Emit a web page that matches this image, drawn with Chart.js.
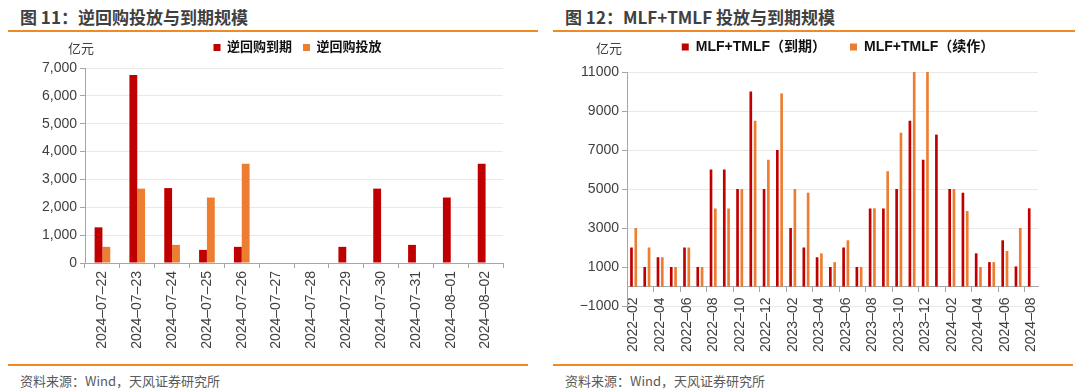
<!DOCTYPE html>
<html>
<head>
<meta charset="utf-8">
<script src="https://cdn.jsdelivr.net/npm/chart.js@4/dist/chart.umd.min.js"></script>
<style>
  body { margin: 0; width: 1080px; height: 391px; background: #fff; position: relative; overflow: hidden;
         font-family: "Liberation Sans", "Noto Sans CJK SC", sans-serif; }
  .title { position: absolute; top: 4px; font-size: 17px; font-weight: bold; color: #404040; white-space: nowrap;
           font-family: "Noto Sans CJK SC", sans-serif; }
  .rule { position: absolute; height: 2px; background: #F08A24; }
  .unit { position: absolute; top: 38px; font-size: 13px; color: #404040; font-family: "Noto Sans CJK SC", sans-serif; }
  .src { position: absolute; top: 371px; font-size: 13px; color: #595959; white-space: nowrap;
         font-family: "Noto Sans CJK SC", sans-serif; }
  .box { position: absolute; width: 540px; }
</style>
</head>
<body>
<div class="title" style="left:20px">图 11：逆回购投放与到期规模</div>
<div class="title" style="left:565px">图 12：MLF+TMLF 投放与到期规模</div>
<div class="rule" style="left:8px; width:530px; top:30px"></div>
<div class="rule" style="left:553px; width:522px; top:30px"></div>
<div class="box" style="left:0; top:30px; height:332px"><canvas id="repo-chart"></canvas></div>
<div class="box" style="left:540px; top:16px; height:346px"><canvas id="mlf-chart"></canvas></div>
<div class="unit" style="left:68px">亿元</div>
<div class="unit" style="left:596px">亿元</div>
<div class="rule" style="left:8px; width:520px; top:364px"></div>
<div class="rule" style="left:553px; width:520px; top:364px"></div>
<div class="src" style="left:20px">资料来源：Wind，天风证券研究所</div>
<div class="src" style="left:565px">资料来源：Wind，天风证券研究所</div>

<script>
// 逆回购 (亿元)
const repoDates = ['2024–07–22', '2024–07–23', '2024–07–24', '2024–07–25', '2024–07–26', '2024–07–27',
    '2024–07–28', '2024–07–29', '2024–07–30', '2024–07–31', '2024–08–01', '2024–08–02'];
const repoExpire = [1280, 6750, 2690, 470, 580, 0, 0, 580, 2670, 650, 2350, 3560];
const repoInject = [580, 2670, 650, 2350, 3560, 0, 0, 0, 0, 0, 0, 0];

// MLF+TMLF (亿元), 2022-02 .. 2024-08
const mlfMonths = ['2022–02', '2022–03', '2022–04', '2022–05', '2022–06', '2022–07', '2022–08', '2022–09',
    '2022–10', '2022–11', '2022–12', '2023–01', '2023–02', '2023–03', '2023–04', '2023–05', '2023–06',
    '2023–07', '2023–08', '2023–09', '2023–10', '2023–11', '2023–12', '2024–01', '2024–02', '2024–03',
    '2024–04', '2024–05', '2024–06', '2024–07', '2024–08'];
const mlfExpire = [2000, 1000, 1500, 1000, 2000, 1000, 6000, 6000, 5000, 10000, 5000, 7000, 3000, 2000,
    1500, 1000, 2000, 1000, 4000, 4000, 5000, 8500, 6500, 7790, 5000, 4810, 1700, 1250, 2370, 1030, 4010];
const mlfRenew = [3000, 2000, 1500, 1000, 2000, 1000, 4000, 4000, 5000, 8500, 6500, 9900, 5000, 4810,
    1700, 1250, 2370, 1000, 4010, 5910, 7890, 11000, 11000, 0, 5000, 3870, 1000, 1250, 1820, 3000, 0];

const RED = '#C00000';
const ORANGE = '#ED7D31';
const AXIS = '#A6A6A6';
const GRID = '#E9E9E9';
const TICK_FONT = { family: '"Liberation Sans", "Noto Sans CJK SC"', size: 14 };

Chart.defaults.color = '#404040';
Chart.defaults.animation = false;

// nudge the legend sideways and leave a bit more room under it
const legendTweak = (dx, extra) => ({
    id: 'legendTweak',
    beforeInit(chart) {
        const fit = chart.legend.fit;
        chart.legend.fit = function () { fit.call(this); this.height += extra; };
    },
    afterLayout(chart) {
        chart.legend.left += dx;
        chart.legend.right += dx;
    }
});

const legendOpts = (gap, size) => ({
    position: 'top',
    labels: {
        boxWidth: 7, boxHeight: 7, padding: gap,
        color: '#111',
        font: { family: '"Liberation Sans", "Noto Sans CJK SC"', size: size, weight: 'bold' }
    }
});

new Chart(document.getElementById('repo-chart').getContext('2d'), {
    type: 'bar',
    data: {
        labels: repoDates,
        datasets: [
            { label: '逆回购到期', data: repoExpire, backgroundColor: RED },
            { label: '逆回购投放', data: repoInject, backgroundColor: ORANGE }
        ]
    },
    options: {
        responsive: true,
        maintainAspectRatio: false,
        datasets: { bar: { categoryPercentage: 0.45, barPercentage: 1 } },
        layout: { padding: { top: 0, right: 37, bottom: 0, left: 0 } },
        plugins: { legend: legendOpts(11, 13), tooltip: { enabled: false } },
        scales: {
            x: {
                grid: { display: true, drawOnChartArea: false, tickLength: 5, color: AXIS, offset: true },
                border: { color: AXIS },
                ticks: { font: TICK_FONT, minRotation: 90, maxRotation: 90, autoSkip: false, color: '#404040' },
                afterFit: s => { s.height = 99; }
            },
            y: {
                min: 0, max: 7000,
                grid: { color: GRID, tickLength: 5, tickColor: AXIS },
                border: { color: AXIS },
                ticks: { font: TICK_FONT, stepSize: 1000, color: '#404040',
                         callback: v => v.toLocaleString('en-US') },
                afterFit: s => { s.width = 85; }
            }
        }
    },
    plugins: [legendTweak(46, 4)]
});

new Chart(document.getElementById('mlf-chart').getContext('2d'), {
    type: 'bar',
    data: {
        labels: mlfMonths,
        datasets: [
            { label: 'MLF+TMLF（到期）', data: mlfExpire, backgroundColor: RED },
            { label: 'MLF+TMLF（续作）', data: mlfRenew, backgroundColor: ORANGE }
        ]
    },
    options: {
        responsive: true,
        maintainAspectRatio: false,
        datasets: { bar: { categoryPercentage: 0.65, barPercentage: 0.62 } },
        layout: { padding: { top: 0, right: 42, bottom: 56, left: 0 } },
        plugins: { legend: legendOpts(24, 14), tooltip: { enabled: false } },
        scales: {
            x: {
                position: { y: 0 },
                grid: { display: true, drawOnChartArea: false, tickLength: 5, offset: true,
                        tickColor: c => (c.index % 2 === 0 && c.index > 0) ? AXIS : 'rgba(0,0,0,0)' },
                border: { color: AXIS },
                ticks: { font: TICK_FONT, minRotation: 90, maxRotation: 90, autoSkip: false, color: '#404040',
                         padding: 6, callback: (v, i) => i % 2 === 0 ? mlfMonths[i] : '' }
            },
            y: {
                min: -1000, max: 11000,
                grid: { color: GRID, tickLength: 5, tickColor: AXIS },
                border: { color: AXIS },
                ticks: { font: TICK_FONT, stepSize: 2000, color: '#404040',
                         callback: v => v < 0 ? '−' + Math.abs(v) : String(v) },
                afterFit: s => { s.width = 87; }
            }
        }
    },
    plugins: [legendTweak(49, 8)]
});
</script>
</body>
</html>
